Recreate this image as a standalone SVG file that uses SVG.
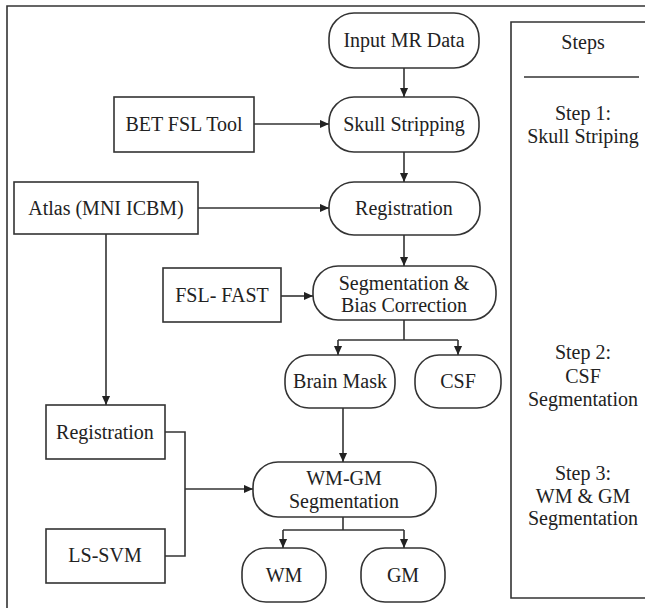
<svg xmlns="http://www.w3.org/2000/svg" width="645" height="608" viewBox="0 0 645 608">
<defs>
<style>
.n{fill:#fff;stroke:#333;stroke-width:1.6}
.t{font-family:"Liberation Serif","Times New Roman",serif;font-size:20px;fill:#222;text-anchor:middle;dominant-baseline:central}
.c{fill:none;stroke:#333;stroke-width:1.6}
</style>
<marker id="ah" viewBox="0 0 10 10" refX="10" refY="5" markerWidth="9" markerHeight="9" markerUnits="userSpaceOnUse" orient="auto">
<path d="M0,0.5 L10,5 L0,9.5 Z" fill="#222"/>
</marker>
</defs>
<rect width="645" height="608" fill="#fff"/>
<g id="frame"><path class="c" d="M7,608 V6 H645" stroke-width="2"/></g>
<g id="steps">
<path class="c" d="M647,22 H511 V598 H647"/>
<line class="c" x1="524" y1="77" x2="639" y2="77"/>
<text class="t" x="583" y="42">Steps</text>
<text class="t" x="583" y="113">Step 1:</text>
<text class="t" x="583" y="136">Skull Striping</text>
<text class="t" x="583" y="352">Step 2:</text>
<text class="t" x="583" y="376">CSF</text>
<text class="t" x="583" y="399">Segmentation</text>
<text class="t" x="583" y="473">Step 3:</text>
<text class="t" x="583" y="496">WM &amp; GM</text>
<text class="t" x="583" y="518">Segmentation</text>
</g>
<g id="input"><rect class="n" x="329" y="13" width="150" height="55" rx="25"/><text class="t" x="404" y="40">Input MR Data</text></g>
<g id="skull"><rect class="n" x="329" y="97" width="150" height="55" rx="25"/><text class="t" x="404" y="124">Skull Stripping</text></g>
<g id="bet"><rect class="n" x="114" y="97" width="140" height="55"/><text class="t" x="184" y="124">BET FSL Tool</text></g>
<g id="atlas"><rect class="n" x="14" y="182" width="184" height="52"/><text class="t" x="106" y="208">Atlas (MNI ICBM)</text></g>
<g id="reg1"><rect class="n" x="329" y="182" width="151" height="53" rx="25"/><text class="t" x="404" y="208">Registration</text></g>
<g id="fast"><rect class="n" x="163" y="268" width="118" height="54"/><text class="t" x="222" y="295">FSL- FAST</text></g>
<g id="seg"><rect class="n" x="313" y="266" width="183" height="54" rx="25"/><text class="t" x="404" y="283">Segmentation &amp;</text><text class="t" x="404" y="305">Bias Correction</text></g>
<g id="mask"><rect class="n" x="285" y="355" width="110" height="53" rx="24"/><text class="t" x="340" y="381">Brain Mask</text></g>
<g id="csf"><rect class="n" x="415" y="355" width="86" height="53" rx="24"/><text class="t" x="458" y="381">CSF</text></g>
<g id="reg2"><rect class="n" x="46" y="405" width="119" height="54"/><text class="t" x="105" y="432">Registration</text></g>
<g id="lssvm"><rect class="n" x="46" y="529" width="119" height="54"/><text class="t" x="105" y="555">LS-SVM</text></g>
<g id="wmgm"><rect class="n" x="253" y="462" width="183" height="55" rx="25"/><text class="t" x="344" y="478">WM-GM</text><text class="t" x="344" y="501">Segmentation</text></g>
<g id="wm"><rect class="n" x="242" y="548" width="84" height="54" rx="24"/><text class="t" x="284" y="575">WM</text></g>
<g id="gm"><rect class="n" x="361" y="548" width="84" height="54" rx="24"/><text class="t" x="403" y="575">GM</text></g>
<g id="connectors">
<path class="c" d="M404,68 V97" marker-end="url(#ah)"/>
<path class="c" d="M254,124 H329" marker-end="url(#ah)"/>
<path class="c" d="M404,152 V182" marker-end="url(#ah)"/>
<path class="c" d="M198,208 H329" marker-end="url(#ah)"/>
<path class="c" d="M404,235 V266" marker-end="url(#ah)"/>
<path class="c" d="M281,296 H313" marker-end="url(#ah)"/>
<path class="c" d="M404,320 V340"/>
<path class="c" d="M338,340 H458"/>
<path class="c" d="M338,340 V355" marker-end="url(#ah)"/>
<path class="c" d="M458,340 V355" marker-end="url(#ah)"/>
<path class="c" d="M106,234 V405" marker-end="url(#ah)"/>
<path class="c" d="M165,432 H185 V556 H165"/>
<path class="c" d="M185,489 H253" marker-end="url(#ah)"/>
<path class="c" d="M343,408 V462" marker-end="url(#ah)"/>
<path class="c" d="M343,517 V530"/>
<path class="c" d="M283,530 H404"/>
<path class="c" d="M283,530 V548" marker-end="url(#ah)"/>
<path class="c" d="M404,530 V548" marker-end="url(#ah)"/>
</g>
</svg>
